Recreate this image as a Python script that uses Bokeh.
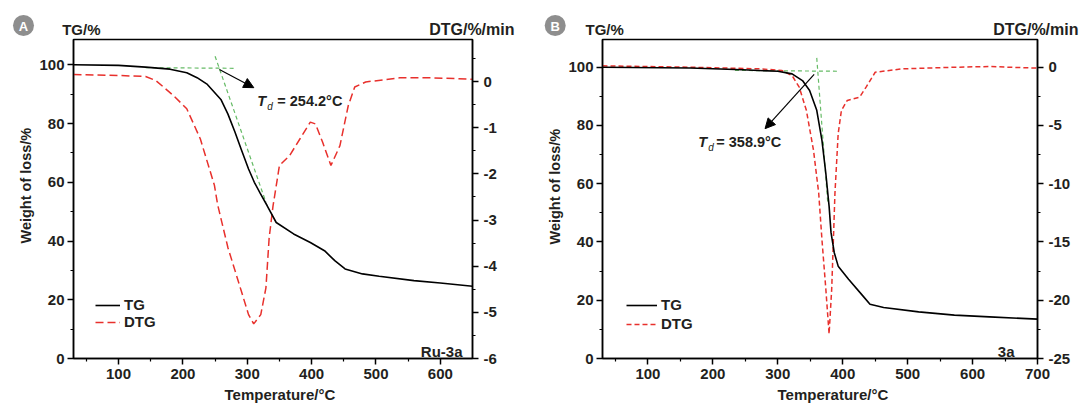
from bokeh.plotting import figure
from bokeh.models import (Range1d, LinearAxis, FixedTicker, Label, Arrow, NormalHead,
                          Legend, LegendItem, Title, PrintfTickFormatter)
from bokeh.layouts import row, column
from bokeh.embed import file_html
from bokeh.resources import INLINE
from bokeh.core.properties import value

# ---------------- data ----------------
# Panel A (Ru-3a)
A_TG_T = [30, 100, 142, 180, 206, 222, 238, 259, 270, 281, 291, 302, 311, 320, 331, 345, 372, 398, 420, 436, 452, 479, 505, 559, 600, 650]
A_TG = [100, 99.8, 99.2, 98.5, 97.3, 95.6, 93.3, 88.2, 83.2, 77.0, 71.0, 64.5, 60.0, 56.3, 52.0, 46.3, 42.4, 39.5, 36.7, 33.3, 30.5, 28.8, 28.0, 26.5, 25.7, 24.6]
A_DTG_T = [30, 100, 142, 158, 185, 206, 227, 249, 254, 270, 291, 302, 310, 321, 329, 334, 340, 350, 366, 382, 398, 406, 417, 430, 444, 457, 467, 484, 537, 585, 650]
A_DTG = [0.15, 0.13, 0.11, 0.02, -0.30, -0.59, -1.24, -2.25, -2.67, -3.6, -4.55, -5.05, -5.25, -5.05, -4.47, -3.39, -2.7, -1.82, -1.6, -1.24, -0.88, -0.92, -1.31, -1.82, -1.39, -0.52, -0.12, -0.01, 0.08, 0.08, 0.05]
A_TAN_H_T = [142, 281]
A_TAN_H = [99.0, 98.8]
A_TAN_V_T = [250, 329]
A_TAN_V = [102.9, 53.2]
A_ARROW = [256.7, 98.4, 310.2, 92.2]
A_TD = "254.2"
A_NAME = "Ru-3a"

# Panel B (3a)
B_TG_T = [30, 165, 246, 300, 322, 338, 349, 360, 368, 374, 379, 382, 387, 393, 409, 431, 442, 463, 517, 572, 626, 700]
B_TG = [100, 99.7, 99.1, 98.6, 97.7, 95.4, 92, 85.2, 74.9, 63.5, 52.3, 43.2, 36.3, 31.7, 27.2, 21.5, 18.6, 17.5, 16, 14.9, 14.3, 13.5]
B_DTG_T = [30, 165, 274, 306, 322, 333, 344, 355, 363, 368, 374, 379, 383, 386, 388, 393, 398, 407, 426, 436, 450, 491, 572, 626, 700]
B_DTG = [0.12, 0, -0.14, -0.28, -0.71, -1.71, -3.7, -7.13, -10.8, -14.8, -19.06, -22.9, -19.06, -14.2, -10.84, -5.7, -3.7, -2.85, -2.57, -1.71, -0.43, -0.14, 0, 0.06, -0.08]
B_TAN_H_T = [234, 392]
B_TAN_H = [98.9, 98.6]
B_TAN_V_T = [360, 377]
B_TAN_V = [103.2, 53.3]
B_ARROW = [356, 97.5, 280.4, 78.9]
B_TD = "358.9"
B_NAME = "3a"

TG_TICKS = [0, 20, 40, 60, 80, 100]
TG_MINOR = [10, 30, 50, 70, 90]
A_X_TICKS = [100, 200, 300, 400, 500, 600]
A_X_MINOR = [50, 150, 250, 350, 450, 550]
B_X_TICKS = [100, 200, 300, 400, 500, 600, 700]
B_X_MINOR = [50, 150, 250, 350, 450, 550, 650]
A_DTG_TICKS = [-6, -5, -4, -3, -2, -1, 0]
A_DTG_MINOR = [-5.5, -4.5, -3.5, -2.5, -1.5, -0.5, 0.5]
B_DTG_TICKS = [-25, -20, -15, -10, -5, 0]
B_DTG_MINOR = [-22.5, -17.5, -12.5, -7.5, -2.5]

X_LABEL = "Temperature/°C"
Y_LABEL = "Weight of loss/%"
TG_HEAD = "TG/%"
DTG_HEAD = "DTG/%/min"

FONT = "Liberation Sans"
TXT = "#231f20"
RED = "#e8302c"
GREEN = "#66bb66"
BADGE = "#8e8e8e"


def style_axis(ax, standoff):
    ax.axis_line_width = 1.5
    ax.axis_line_color = "black"
    ax.major_tick_line_width = 1.5
    ax.minor_tick_line_width = 1.2
    ax.major_tick_in = 0
    ax.major_tick_out = 6
    ax.minor_tick_in = 0
    ax.minor_tick_out = 3
    ax.major_label_text_font = FONT
    ax.major_label_text_font_style = "bold"
    ax.major_label_text_font_size = "15px"
    ax.major_label_text_color = TXT
    ax.major_label_standoff = standoff


def panel(tg_t, tg, dtg_t, dtg, tanh_t, tanh, tanv_t, tanv, arrow, td, name,
          xmax, tg_top, dtg_range, x_ticks, x_minor, dtg_ticks, dtg_minor, width, borders,
          dash, td_pos, td_offs, name_off, legend_loc, glyph_w, leg_spacing, lab_offs):
    bl, br, bt, bb = borders
    p = figure(width=width, height=372, x_range=Range1d(30, xmax), y_range=Range1d(0, tg_top),
               output_backend="svg", toolbar_location=None, title=None,
               min_border_left=bl, min_border_right=br, min_border_top=bt, min_border_bottom=bb)
    p.extra_y_ranges = {"dtg": Range1d(*dtg_range)}
    p.xgrid.visible = False
    p.ygrid.visible = False
    p.outline_line_color = "black"
    p.outline_line_width = 1.5
    p.background_fill_color = "white"
    p.border_fill_color = "white"

    p.xaxis.ticker = FixedTicker(ticks=x_ticks, minor_ticks=x_minor)
    p.yaxis.ticker = FixedTicker(ticks=TG_TICKS, minor_ticks=TG_MINOR)
    rax = LinearAxis(y_range_name="dtg", ticker=FixedTicker(ticks=dtg_ticks, minor_ticks=dtg_minor),
                     formatter=PrintfTickFormatter(format="%d"))
    p.add_layout(rax, "right")
    style_axis(p.xaxis[0], 4)
    style_axis(p.yaxis[0], 3)
    style_axis(rax, 5)

    # axis titles, shifted along their axes like in the original figure
    xoff, yoff = lab_offs
    p.add_layout(Title(text=X_LABEL, align="left", offset=xoff, standoff=5,
                       text_font=FONT, text_font_style="bold", text_font_size="15px",
                       text_color=TXT), "below")
    p.add_layout(Title(text=Y_LABEL, align="left", offset=yoff, standoff=5,
                       text_font=FONT, text_font_style="bold", text_font_size="14.5px",
                       text_color=TXT), "left")

    # tangent lines
    p.line(tanh_t, tanh, line_color=GREEN, line_width=1.2, line_dash="4 3")
    p.line(tanv_t, tanv, line_color=GREEN, line_width=1.2, line_dash="4 3")

    dtg_r = p.line(dtg_t, dtg, y_range_name="dtg", line_color=RED, line_width=1.5, line_dash=dash)
    tg_r = p.line(tg_t, tg, line_color="black", line_width=1.6)

    p.add_layout(Arrow(x_start=arrow[0], y_start=arrow[1], x_end=arrow[2], y_end=arrow[3],
                       line_color="black", line_width=1.2,
                       end=NormalHead(size=10, fill_color="black", line_color="black")))

    # Td annotation
    tx, ty = td_pos
    d_off, eq_off = td_offs
    p.add_layout(Label(x=tx, y=ty, text="T", text_font=FONT, text_font_style="bold italic",
                       text_font_size="14.5px", text_color=TXT, text_baseline="middle"))
    p.add_layout(Label(x=tx, y=ty, x_offset=d_off, y_offset=-5, text="d", text_font=FONT,
                       text_font_style="italic", text_font_size="10px", text_color=TXT,
                       text_baseline="middle"))
    p.add_layout(Label(x=tx, y=ty, x_offset=eq_off, text="= " + td + "°C", text_font=FONT,
                       text_font_style="bold", text_font_size="14.5px", text_color=TXT,
                       text_baseline="middle"))

    # sample name
    p.add_layout(Label(x=xmax, y=0, x_offset=name_off[0], y_offset=name_off[1], text=name,
                       text_font=FONT, text_font_style="bold", text_font_size="15px",
                       text_color=TXT, text_align="right", text_baseline="alphabetic"))

    legend = Legend(items=[LegendItem(label="TG", renderers=[tg_r]),
                           LegendItem(label="DTG", renderers=[dtg_r])],
                    location=legend_loc, background_fill_alpha=0, border_line_alpha=0,
                    label_text_font=FONT, label_text_font_style="bold",
                    label_text_font_size="15px", label_text_color=TXT,
                    glyph_width=glyph_w, glyph_height=14, label_height=14, spacing=leg_spacing,
                    padding=3, margin=0, label_standoff=4)
    p.add_layout(legend)
    return p


pa = panel(A_TG_T, A_TG, A_DTG_T, A_DTG, A_TAN_H_T, A_TAN_H, A_TAN_V_T, A_TAN_V,
           A_ARROW, A_TD, A_NAME, 650, 108.6, (-6, 0.91), A_X_TICKS, A_X_MINOR,
           A_DTG_TICKS, A_DTG_MINOR, 537, (73, 65, 1, 51), "8 4", (315.6, 87.6), (10, 20),
           (-10, 7), (19, 25), 25, 0, (151, 115))
pb = panel(B_TG_T, B_TG, B_DTG_T, B_DTG, B_TAN_H_T, B_TAN_H, B_TAN_V_T, B_TAN_V,
           B_ARROW, B_TD, B_NAME, 700, 109.5, (-25, 2.38), B_X_TICKS, B_X_MINOR,
           B_DTG_TICKS, B_DTG_MINOR, 545, (65, 45, 1, 52), "5 3", (177.5, 74.3), (10, 18),
           (-23, 7), (21, 23), 31, 2, (175, 114))

# header strip: panel badges and axis-unit headings (pixel coordinates)
hdr = figure(width=1082, height=38, x_range=Range1d(0, 1082), y_range=Range1d(38, 0),
             output_backend="svg", toolbar_location=None, title=None,
             x_axis_type=None, y_axis_type=None, min_border=0)
hdr.outline_line_color = None
hdr.background_fill_color = "white"
hdr.border_fill_color = "white"
hdr.scatter(x=[23, 554.7], y=[25, 25], size=21, marker="circle",
            fill_color=BADGE, line_color=None)
hdr.text(x=[23, 554.7], y=[25.5, 25.5], text=["A", "B"], text_align="center",
         text_baseline="middle", text_color="white", text_font=value(FONT),
         text_font_style="bold", text_font_size="13px")
for x, t, align, size in [(61.7, TG_HEAD, "left", "15px"), (514, DTG_HEAD, "right", "16px"),
                          (585, TG_HEAD, "left", "15px"), (1078, DTG_HEAD, "right", "16px")]:
    hdr.add_layout(Label(x=x, y=28.5, text=t, text_align=align, text_baseline="middle",
                         text_font=FONT, text_font_style="bold", text_font_size=size,
                         text_color=TXT))

layout = column(hdr, row(pa, pb))
open("out.html", "w").write(file_html(layout, INLINE))
